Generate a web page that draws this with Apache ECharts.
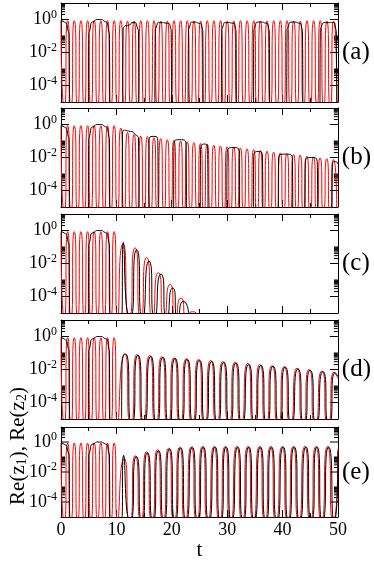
<!DOCTYPE html>
<html><head><meta charset="utf-8">
<script src="https://cdn.jsdelivr.net/npm/echarts/dist/echarts.min.js"></script>
<style>html,body{margin:0;padding:0;background:#fff}#c{width:374px;height:562px}</style>
</head><body><div id="c"></div>
<script>
// ---- data (t, value); value 0 means the curve crosses zero ----
const panelLabels = ['(a)', '(b)', '(c)', '(d)', '(e)'];
const xLabels = [0, 10, 20, 30, 40, 50];
const yMajorTicks = [1, 1e-2, 1e-4];
const yMinorTicks = [2,3,4,5,6,7,8,9, 0.02,0.03,0.04,0.05,0.06,0.07,0.08,0.09,0.1, 2e-4,3e-4,4e-4,5e-4,6e-4,7e-4,8e-4,9e-4,1e-3];

const blackEarly = [[0,0.85],[0.6,0.7],[1.15,0.35],[1.45,0.06],[1.55,0],[4.9,0],[5.0,0.06],[5.3,0.35],[6.0,0.8],[6.9,1.0],[7.8,0.8],[8.5,0.35],[8.75,0.06],[8.85,0]];
const redEarly = [[0,0.85],[0.6,0],[1.2,0.85],[1.8,0],[2.4,0.85],[3.0,0],[3.6,0.85],[4.2,0],[4.8,0.85],[5.4,0],[6.0,0.85],[6.6,0],[7.2,0.85],[7.8,0],[8.4,0.85],[9.0,0],[9.6,0.85],[10.2,0]];

const redA = [[10.8,0.85],[11.4,0],[12.0,0.8],[12.6,0],[13.2,0.8],[13.8,0],[14.4,0.85],[15.0,0],[15.6,0.85],[16.2,0],[16.8,0.85],[17.4,0],[18.0,0.8],[18.6,0],[19.2,0.8],[19.8,0],[20.4,0.85],[21.0,0],[21.6,0.85],[22.2,0],[22.8,0.85],[23.4,0],[24.0,0.8],[24.6,0],[25.2,0.8],[25.8,0],[26.4,0.85],[27.0,0],[27.6,0.85],[28.2,0],[28.8,0.85],[29.4,0],[30.0,0.8],[30.6,0],[31.2,0.8],[31.8,0],[32.4,0.85],[33.0,0],[33.6,0.85],[34.2,0],[34.8,0.85],[35.4,0],[36.0,0.8],[36.6,0],[37.2,0.8],[37.8,0],[38.4,0.85],[39.0,0],[39.6,0.85],[40.2,0],[40.8,0.85],[41.4,0],[42.0,0.8],[42.6,0],[43.2,0.8],[43.8,0],[44.4,0.85],[45.0,0],[45.6,0.85],[46.2,0],[46.8,0.85],[47.4,0],[48.0,0.8],[48.6,0],[49.2,0.8],[49.8,0]];
const blackA = [[11.1,0],[11.2,0.1],[11.5,0.4],[12.2,0.45],[13.0,0.65],[13.7,0.4],[14.0,0.1],[14.1,0],
  [16.9,0],[17.0,0.1],[17.3,0.45],[18.0,0.65],[19.0,0.6],[19.7,0.4],[19.9,0.1],[20.0,0],
  [22.9,0],[23.0,0.1],[23.3,0.45],[24.0,0.7],[24.8,0.6],[25.4,0.4],[25.6,0.1],[25.7,0],
  [28.9,0],[29.0,0.1],[29.3,0.45],[30.0,0.65],[30.9,0.6],[31.4,0.4],[31.6,0.1],[31.7,0],
  [34.7,0],[34.8,0.1],[35.1,0.45],[36.0,0.7],[36.9,0.6],[37.4,0.4],[37.6,0.1],[37.7,0],
  [40.7,0],[40.8,0.1],[41.1,0.45],[42.0,0.7],[42.9,0.6],[43.4,0.4],[43.6,0.1],[43.7,0],
  [46.7,0],[46.8,0.1],[47.1,0.45],[48.0,0.65],[49.0,0.65],[49.5,0.4],[49.7,0.1],[49.8,0]];

const redB = [[10.8,0.6],[11.4,0],[12.0,0.33],[12.6,0],[13.2,0.25],[13.8,0],[14.4,0.2],[15.0,0],[15.6,0.19],[16.2,0],[16.8,0.16],[17.4,0],[18.0,0.14],[18.6,0],[19.2,0.12],[19.8,0],[20.4,0.11],[21.0,0],[21.6,0.1],[22.2,0],[22.8,0.09],[23.4,0],[24.0,0.08],[24.6,0],[25.2,0.07],[25.8,0],[26.4,0.065],[27.0,0],[27.6,0.055],[28.2,0],[28.8,0.05],[29.4,0],[30.0,0.045],[30.6,0],[31.2,0.042],[31.8,0],[32.4,0.037],[33.0,0],[33.6,0.034],[34.2,0],[34.8,0.03],[35.4,0],[36.0,0.027],[36.6,0],[37.2,0.024],[37.8,0],[38.4,0.021],[39.0,0],[39.6,0.019],[40.2,0],[40.8,0.017],[41.4,0],[42.0,0.015],[42.6,0],[43.2,0.014],[43.8,0],[44.4,0.012],[45.0,0],[45.6,0.011],[46.2,0],[46.8,0.0095],[47.4,0],[48.0,0.0085],[48.6,0],[49.2,0.0075],[49.8,0]];
const blackB = [[11.0,0],[11.1,0.1],[11.4,0.45],[12.2,0.4],[13.4,0.25],[14.0,0.1],[14.2,0],
  [15.8,0],[15.9,0.05],[16.7,0.19],[17.5,0.05],[17.6,0],
  [20.3,0],[20.4,0.04],[21.4,0.12],[22.6,0.03],[22.7,0],
  [25.1,0],[25.2,0.03],[25.9,0.065],[26.5,0.015],[26.6,0],
  [29.9,0],[30.0,0.015],[31.1,0.04],[32.2,0.01],[32.3,0],
  [34.7,0],[34.8,0.01],[35.6,0.023],[36.4,0.005],[36.5,0],
  [39.2,0],[39.3,0.008],[40.5,0.016],[41.8,0.004],[41.9,0],
  [44.0,0],[44.1,0.005],[45.2,0.01],[46.3,0.0025],[46.4,0],
  [48.9,0],[49.0,0.003],[49.6,0.0056],[50,0.004]];

const redC = [[11.2,0.15],[12.3,0],[13.36,0.09],[14.4,0],[15.46,0.023],[16.5,0],[17.57,0.0028],[18.6,0],[19.7,5.4e-4],[20.7,0],[21.66,8e-5],[22.7,0],[23.77,1.2e-5],[24.8,0]];
const blackC = [[10.9,0],[11.25,0.19],[12.5,0],[13.66,0.068],[14.7,0],[15.88,0.014],[16.9,0],[18.05,0.0023],[19.1,0],[20.16,3.3e-4],[21.1,0],[22.08,5e-5],[23.1,0]];

const redD = [[11.5,0.09],[12.6,0],[13.7,0.08],[14.8,0],[16.0,0.07],[17.1,0],[18.2,0.06],[19.3,0],[20.4,0.05],[21.5,0],[22.6,0.045],[23.7,0],[24.8,0.04],[25.9,0],[27.0,0.035],[28.1,0],[29.2,0.03],[30.3,0],[31.4,0.027],[32.5,0],[33.7,0.023],[34.8,0],[35.9,0.02],[37.0,0],[38.1,0.017],[39.2,0],[40.3,0.015],[41.4,0],[42.6,0.012],[43.7,0],[44.8,0.01],[45.9,0],[47.1,0.008],[48.2,0],[49.3,0.007],[50,0.003]];
const blackD = [[10.9,0],[11.0,0.01],[11.7,0.085],[12.8,0],[13.9,0.075],[15.0,0],[16.2,0.065],[17.3,0],[18.4,0.055],[19.5,0],[20.6,0.048],[21.7,0],[22.8,0.042],[23.9,0],[25.0,0.037],[26.1,0],[27.2,0.032],[28.3,0],[29.4,0.028],[30.5,0],[31.6,0.025],[32.7,0],[33.9,0.021],[35.0,0],[36.1,0.018],[37.2,0],[38.3,0.016],[39.4,0],[40.5,0.014],[41.6,0],[42.8,0.011],[43.9,0],[45.0,0.009],[46.1,0],[47.3,0.0075],[48.4,0],[49.5,0.0065],[50,0.004]];

const redE = [[11.4,0.08],[12.4,0],[13.4,0.12],[14.4,0],[15.4,0.22],[16.4,0],[17.4,0.3],[18.4,0],[19.4,0.38],[20.4,0],[21.4,0.45],[22.4,0],[23.5,0.48],[24.5,0],[25.5,0.5],[26.5,0],[27.6,0.5],[28.6,0],[29.6,0.5],[30.6,0],[31.7,0.5],[32.7,0],[33.7,0.5],[34.7,0],[35.8,0.5],[36.8,0],[37.8,0.5],[38.8,0],[39.9,0.5],[40.9,0],[41.9,0.5],[42.9,0],[44.0,0.5],[45.0,0],[46.0,0.5],[47.0,0],[48.1,0.5],[49.1,0],[50,0.35]];
const blackE = [[10.9,0],[11.3,0.13],[12.5,0],[13.6,0.11],[14.6,0],[15.6,0.2],[16.6,0],[17.6,0.28],[18.6,0],[19.6,0.36],[20.6,0],[21.6,0.43],[22.6,0],[23.7,0.46],[24.7,0],[25.7,0.48],[26.7,0],[27.8,0.48],[28.8,0],[29.8,0.48],[30.8,0],[31.9,0.48],[32.9,0],[33.9,0.48],[34.9,0],[36.0,0.48],[37.0,0],[38.0,0.48],[39.0,0],[40.1,0.48],[41.1,0],[42.1,0.48],[43.1,0],[44.2,0.48],[45.2,0],[46.2,0.48],[47.2,0],[48.3,0.48],[49.3,0],[50,0.25]];

const redLate = [redA, redB, redC, redD, redE];
const blackLate = [blackA, blackB, blackC, blackD, blackE];

// ---- chart ----
const ZERO = Math.pow(10, -5.3); // where a zero crossing is drawn on the log axis (below the frame)
const tops = [3, 108, 214, 320, 427];
const H = 99;
const serif = 'Liberation Serif';
function toLine(pts) { return pts.map(p => [p[0], p[1] > 0 ? p[1] : ZERO]); }

const grid = [], xAxis = [], yAxis = [], series = [];
const tickData = yMajorTicks.map(v => [0, v, 1]).concat(yMinorTicks.map(v => [0, v, 0]));

for (let i = 0; i < 5; i++) {
  grid.push({ left: 61, right: 36, top: tops[i], height: H });
  const axLine = { show: true, onZero: false, lineStyle: { color: '#000', width: 1 } };
  const xBase = {
    type: 'value', gridIndex: i, min: 0, max: 50, interval: 10,
    axisLine: axLine, splitLine: { show: false },
    axisTick: { show: true, inside: true, length: 7, lineStyle: { color: '#000' } },
    minorTick: { show: true, splitNumber: 2, length: 4, lineStyle: { color: '#000' } }
  };
  xAxis.push(Object.assign({}, xBase, {
    position: 'bottom',
    axisLabel: { show: i === 4, margin: 4, fontSize: 18, fontFamily: serif, color: '#000',
                 customValues: xLabels },
    name: i === 4 ? 't' : '', nameLocation: 'middle', nameGap: 23,
    nameTextStyle: { fontSize: 21, fontFamily: serif, color: '#000' }
  }));
  xAxis.push(Object.assign({}, xBase, { position: 'top', axisLabel: { show: false } }));
  yAxis.push({
    type: 'log', logBase: 10, gridIndex: i, min: 1e-5, max: 10, position: 'left',
    axisLine: axLine, splitLine: { show: false }, axisTick: { show: false }, minorTick: { show: false },
    axisLabel: {
      margin: 4, color: '#000',
      formatter: function (v) {
        const e = Math.round(Math.log10(v));
        return yMajorTicks.some(m => Math.abs(Math.log10(m) - e) < 1e-6) ? '{b|10}{s|' + e + '}' : '';
      },
      rich: {
        b: { fontSize: 18, fontFamily: serif, color: '#000' },
        s: { fontSize: 12, fontFamily: serif, color: '#000', padding: [0, 0, 10, 0] }
      }
    }
  });
  yAxis.push({
    type: 'log', logBase: 10, gridIndex: i, min: 1e-5, max: 10, position: 'right',
    axisLine: axLine, splitLine: { show: false }, axisTick: { show: false }, axisLabel: { show: false },
    name: panelLabels[i], nameLocation: 'middle', nameRotate: 0, nameGap: 4,
    nameTextStyle: { fontSize: 25, fontFamily: serif, color: '#000', align: 'left', verticalAlign: 'middle' }
  });
  // y ticks (major and minor) on both sides
  series.push({
    type: 'custom', xAxisIndex: 2 * i, yAxisIndex: 2 * i, data: tickData, clip: false, silent: true,
    renderItem: function (params, api) {
      const v = api.value(1), len = api.value(2) ? 8 : 4;
      const pl = api.coord([0, v]), pr = api.coord([50, v]);
      const st = { stroke: '#000', lineWidth: 1 };
      return { type: 'group', children: [
        { type: 'line', shape: { x1: pl[0], y1: pl[1], x2: pl[0] + len, y2: pl[1] }, style: st },
        { type: 'line', shape: { x1: pr[0] - len, y1: pr[1], x2: pr[0], y2: pr[1] }, style: st }
      ] };
    }
  });
  series.push({
    type: 'line', xAxisIndex: 2 * i, yAxisIndex: 2 * i, data: toLine(redEarly.concat(redLate[i])),
    showSymbol: false, smooth: 1, clip: true, lineStyle: { color: '#ff0000', width: 1 }, silent: true
  });
  series.push({
    type: 'line', xAxisIndex: 2 * i, yAxisIndex: 2 * i, data: toLine(blackEarly.concat(blackLate[i])),
    showSymbol: false, smooth: 1, clip: true, lineStyle: { color: '#000000', width: 1 }, silent: true
  });
}

const chart = echarts.init(document.getElementById('c'), null, { renderer: 'canvas' });
chart.setOption({
  animation: false, backgroundColor: '#fff', grid, xAxis, yAxis, series,
  graphic: [{
    type: 'text', x: 18, y: 446, rotation: Math.PI / 2, silent: true,
    style: {
      text: '{n|Re(z}{u|1}{n|), Re(z}{u|2}{n|)}', align: 'center', verticalAlign: 'middle',
      rich: {
        n: { fontSize: 21, fontFamily: serif, fill: '#000', color: '#000' },
        u: { fontSize: 14, fontFamily: serif, fill: '#000', color: '#000', padding: [9, 0, 0, 0] }
      }
    }
  }]
});
</script></body></html>
